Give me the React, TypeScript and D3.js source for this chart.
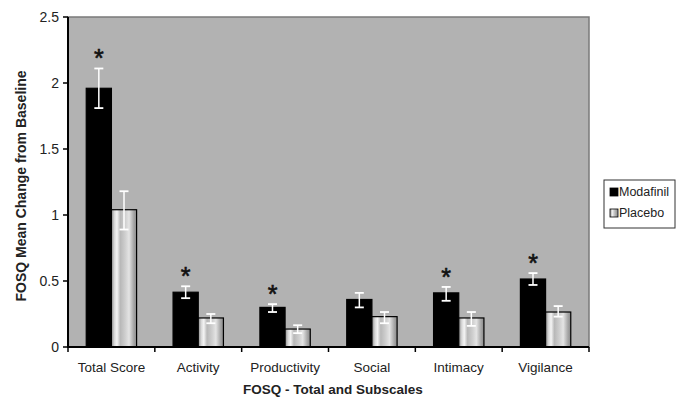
import React from "react";
import * as d3 from "d3";

const categories = ["Total Score", "Activity", "Productivity", "Social", "Intimacy", "Vigilance"];
const seriesNames = ["Modafinil", "Placebo"];
const modafinil = [1.96, 0.415, 0.3, 0.36, 0.41, 0.515];
const modafinilErrLow = [1.81, 0.37, 0.265, 0.3, 0.35, 0.47];
const modafinilErrHigh = [2.11, 0.46, 0.325, 0.41, 0.455, 0.56];
const placebo = [1.04, 0.22, 0.136, 0.23, 0.22, 0.265];
const placeboErrLow = [0.89, 0.18, 0.105, 0.18, 0.16, 0.23];
const placeboErrHigh = [1.18, 0.25, 0.165, 0.265, 0.265, 0.31];
const significant = [true, true, true, false, true, true];
const yTicks = [0, 0.5, 1, 1.5, 2, 2.5];
const yTickLabels = ["0", "0.5", "1", "1.5", "2", "2.5"];

const W = 679, H = 398;
const plot = { left: 68, right: 589, top: 17, bottom: 347 };
const font = "Arial, 'Liberation Sans', Helvetica, sans-serif";

export default function App() {
  const x = d3.scaleBand<string>().domain(categories).range([plot.left, plot.right]).paddingInner(0).paddingOuter(0);
  const y = d3.scaleLinear().domain([0, 2.5]).range([plot.bottom, plot.top]);
  const bw = x.bandwidth();
  const barW = bw * 0.29;
  const sub = d3.scaleBand<string>().domain(seriesNames).range([0, barW * 2]);

  const series = [
    { name: "Modafinil", vals: modafinil, lo: modafinilErrLow, hi: modafinilErrHigh, fill: "#000" },
    { name: "Placebo", vals: placebo, lo: placeboErrLow, hi: placeboErrHigh, fill: "url(#plac)" },
  ];

  return (
    <svg width={W} height={H} style={{ position: "absolute", left: 0, top: 0, background: "#fff" }}>
      <defs>
        <linearGradient id="plac" x1="0" x2="1" y1="0" y2="0">
          <stop offset="0" stopColor="#8c8c8c" />
          <stop offset="0.12" stopColor="#d8d8d8" />
          <stop offset="0.22" stopColor="#f4f4f4" />
          <stop offset="0.35" stopColor="#b8b8b8" />
          <stop offset="0.55" stopColor="#cfcfcf" />
          <stop offset="0.7" stopColor="#e4e4e4" />
          <stop offset="0.88" stopColor="#a8a8a8" />
          <stop offset="1" stopColor="#8a8a8a" />
        </linearGradient>
        <linearGradient id="placLeg" x1="0" x2="1" y1="0" y2="0">
          <stop offset="0" stopColor="#999" />
          <stop offset="0.3" stopColor="#eee" />
          <stop offset="0.6" stopColor="#bbb" />
          <stop offset="1" stopColor="#888" />
        </linearGradient>
      </defs>
      <rect x={plot.left} y={plot.top} width={plot.right - plot.left} height={plot.bottom - plot.top} fill="#b2b2b2" stroke="#7a7a7a" strokeWidth={1.5} />

      {categories.map((c, i) => {
        const x0 = (x(c) as number) + (bw - barW * 2) / 2;
        return (
          <g key={c}>
            {series.map((s) => {
              const bx = x0 + (sub(s.name) as number);
              const cx = bx + barW / 2;
              return (
                <g key={s.name}>
                  <rect x={bx} y={y(s.vals[i])} width={barW} height={y(0) - y(s.vals[i])} fill={s.fill} stroke="#000" strokeWidth={1.2} />
                  <line x1={cx} x2={cx} y1={y(s.hi[i])} y2={y(s.lo[i])} stroke="#fff" strokeWidth={1.5} />
                  <line x1={cx - 4.5} x2={cx + 4.5} y1={y(s.hi[i])} y2={y(s.hi[i])} stroke="#fff" strokeWidth={1.8} />
                  <line x1={cx - 4.5} x2={cx + 4.5} y1={y(s.lo[i])} y2={y(s.lo[i])} stroke="#fff" strokeWidth={1.8} />
                </g>
              );
            })}
            {significant[i] && (
              <text x={x0 + barW / 2} y={y(modafinilErrHigh[i]) - 1} textAnchor="middle" fontFamily={font} fontSize={25} fill="#111" stroke="#111" strokeWidth={0.6}>*</text>
            )}
          </g>
        );
      })}

      {/* axes */}
      <line x1={plot.left} x2={plot.left} y1={plot.top} y2={plot.bottom + 1} stroke="#000" strokeWidth={2} />
      <line x1={plot.left - 1} x2={plot.right} y1={plot.bottom} y2={plot.bottom} stroke="#000" strokeWidth={2} />
      {yTicks.map((t, i) => (
        <g key={t}>
          <line x1={plot.left - 5} x2={plot.left} y1={y(t)} y2={y(t)} stroke="#000" strokeWidth={1.5} />
          <text x={plot.left - 9} y={y(t) + 5} textAnchor="end" fontFamily={font} fontSize={14} fill="#222">{yTickLabels[i]}</text>
        </g>
      ))}
      {[...categories.map((c) => x(c) as number), plot.right].map((px, i) => (
        <line key={i} x1={px} x2={px} y1={plot.bottom} y2={plot.bottom + 5} stroke="#000" strokeWidth={1.5} />
      ))}
      {categories.map((c) => (
        <text key={c} x={(x(c) as number) + bw / 2} y={372} textAnchor="middle" fontFamily={font} fontSize={13.5} fill="#222">{c}</text>
      ))}
      <text x={333} y={394} textAnchor="middle" fontFamily={font} fontSize={13.5} fontWeight="bold" fill="#222">FOSQ - Total and Subscales</text>
      <text transform={`translate(26,186) rotate(-90)`} textAnchor="middle" fontFamily={font} fontSize={14} fontWeight="bold" fill="#222">FOSQ Mean Change from Baseline</text>

      {/* legend */}
      <rect x={604} y={180} width={71} height={48} fill="#fff" stroke="#333" strokeWidth={1} />
      <rect x={610} y={188} width={8} height={8} fill="#000" stroke="#000" strokeWidth={0.8} />
      <text x={619} y={196} fontFamily={font} fontSize={12.5} fill="#222">Modafinil</text>
      <rect x={610} y={209} width={8} height={8} fill="url(#placLeg)" stroke="#000" strokeWidth={0.8} />
      <text x={619} y={217} fontFamily={font} fontSize={12.5} fill="#222">Placebo</text>
    </svg>
  );
}
